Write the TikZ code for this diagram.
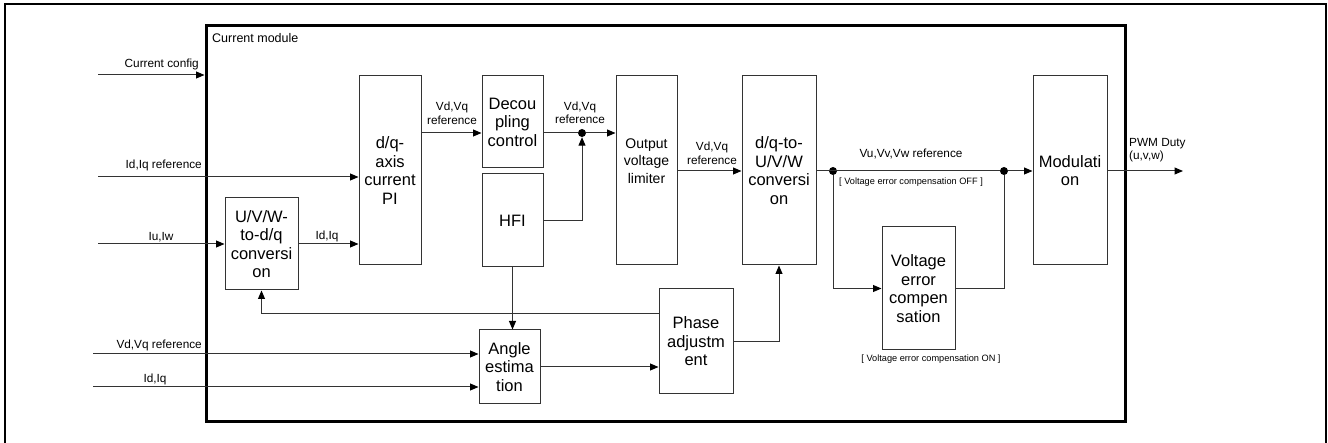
\documentclass[tikz,border=0pt]{standalone}
\usepackage{fontspec}
\setmainfont{Liberation Sans}
\usetikzlibrary{arrows.meta,calc}
\begin{document}
\begin{tikzpicture}[x=1pt,y=-1pt,
  blk/.style={draw=black!80, line width=1pt, inner sep=0pt, align=center, font=\fontsize{16.5}{18.5}\selectfont},
  lbl/.style={inner sep=0pt, align=center, font=\fontsize{11.8}{13.5}\selectfont},
  small/.style={inner sep=0pt, font=\fontsize{9.2}{11}\selectfont},
  conn/.style={draw=black!80, line width=1pt},
  arr/.style={conn, -{Triangle[length=8.5pt,width=7pt,color=black,fill=black]}},
  jdot/.style={circle, fill=black, inner sep=0pt, minimum size=8pt}]
\useasboundingbox (0,0) rectangle (1328,443);
% outer frame
\draw[line width=2pt] (4.5,450) -- (4.5,4.5) -- (1325.5,4.5) -- (1325.5,450);
% module frame
\node[draw, line width=3pt, inner sep=0pt, minimum width=919pt, minimum height=396pt] (mod) at (665.5,223.5) {};
\node[lbl, anchor=base west, font=\fontsize{12.5}{14}\selectfont] (modlbl) at (212,42.5) {Current module};

% blocks
\node[blk, minimum width=62pt, minimum height=189pt] (pi) at (390,170.5) {d/q-\\axis\\current\\PI};
\node[blk, minimum width=61pt, minimum height=92pt] (dec) at (512.5,122) {Decou\\pling\\control};
\node[blk, minimum width=61pt, minimum height=93pt] (hfi) at (512.5,220.5) {HFI};
\node[blk, minimum width=61pt, minimum height=189pt] (lim) at (646.5,170.5) {};
\node[lbl, font=\fontsize{14}{17.5}\selectfont] (limtxt) at (646.5,161) {Output\\voltage\\limiter};
\node[blk, minimum width=74pt, minimum height=189pt] (dq) at (779,170.5) {d/q-to-\\U/V/W\\conversi\\on};
\node[blk, minimum width=74pt, minimum height=189pt] (modu) at (1070,170.5) {Modulati\\on};
\node[blk, minimum width=73pt, minimum height=123pt] (vec) at (918.5,288.5) {Voltage\\error\\compen\\sation};
\node[blk, minimum width=73pt, minimum height=92pt] (uvw) at (261.5,244) {U/V/W-\\to-d/q\\conversi\\on};
\node[blk, minimum width=61pt, minimum height=74pt] (ang) at (509.5,367) {Angle\\estima\\tion};
\node[blk, minimum width=74pt, minimum height=105pt] (ph) at (696,341.5) {Phase\\adjustm\\ent};

% junctions
\node[jdot] (j3) at (582,133) {};
\node[jdot] (j1) at (833,171) {};
\node[jdot] (j2) at (1004,171) {};

% input coordinates
\coordinate (in1) at (98,75);
\coordinate (in2) at (98,177);
\coordinate (in3) at (98,244);
\coordinate (in4) at (93,354);
\coordinate (in5) at (93,387);
\coordinate (pwm) at (1183,171);

% inputs
\draw[arr] (in1) -- (in1 -| mod.west);
\node[lbl, anchor=base east] (l1) at (199,68) {Current config};
\draw[arr] (in2) -- (in2 -| pi.west);
\node[lbl, anchor=base east] (l2) at (202,168.5) {Id,Iq reference};
\draw[arr] (in3) -- (uvw.west);
\node[lbl, anchor=base] (l3) at (161,241) {Iu,Iw};
\draw[arr] (in4) -- (in4 -| ang.west);
\node[lbl, anchor=base east] (l4) at (202,348.5) {Vd,Vq reference};
\draw[arr] (in5) -- (in5 -| ang.west);
\node[lbl, anchor=base] (l5) at (155,382.5) {Id,Iq};

% internal connectors
\draw[arr] (uvw.east) -- (pi.west |- uvw.east);
\node[lbl, anchor=base] (l6) at (327,239.5) {Id,Iq};
\draw[arr] (pi.east |- j3) -- (dec.west |- j3);
\node[lbl, anchor=south] (l7) at (452,124.5) {Vd,Vq\\reference};
\draw[conn] (dec.east |- j3) -- (j3);
\draw[arr] (j3) -- (lim.west |- j3);
\node[lbl, anchor=south] (l8) at (580,124) {Vd,Vq\\reference};
\draw[arr] (hfi.east) -| (j3.south);
\draw[arr] (lim.east |- j1) -- (dq.west |- j1);
\node[lbl, anchor=south] (l9) at (712,164.5) {Vd,Vq\\reference};
\draw[conn] (dq.east |- j1) -- (j2);
\draw[arr] (j2) -- (modu.west |- j2);
\node[lbl, anchor=base] (l10) at (911,157.5) {Vu,Vv,Vw reference};
\node[small, anchor=base] (l11) at (911,185) {[ Voltage error compensation OFF ]};
\draw[arr] (j1) |- (vec.west);
\draw[conn] (vec.east) -| (j2);
\node[small, anchor=base] (l12) at (931,362) {[ Voltage error compensation ON ]};
\draw[arr] (modu.east |- j2) -- (pwm);
\node[lbl, anchor=south west, align=left] (l13) at (1129,162.5) {PWM Duty\\(u,v,w)};

\draw[arr] (hfi.south) -- (hfi.south |- ang.north);
\draw[arr] (ang.east) -- (ph.west |- ang.east);
\draw[arr] (ph.east) -| (dq.south);
\draw[arr] ($(ph.north west)!0.238!(ph.south west)$) -| (uvw.south);
\end{tikzpicture}
\end{document}
